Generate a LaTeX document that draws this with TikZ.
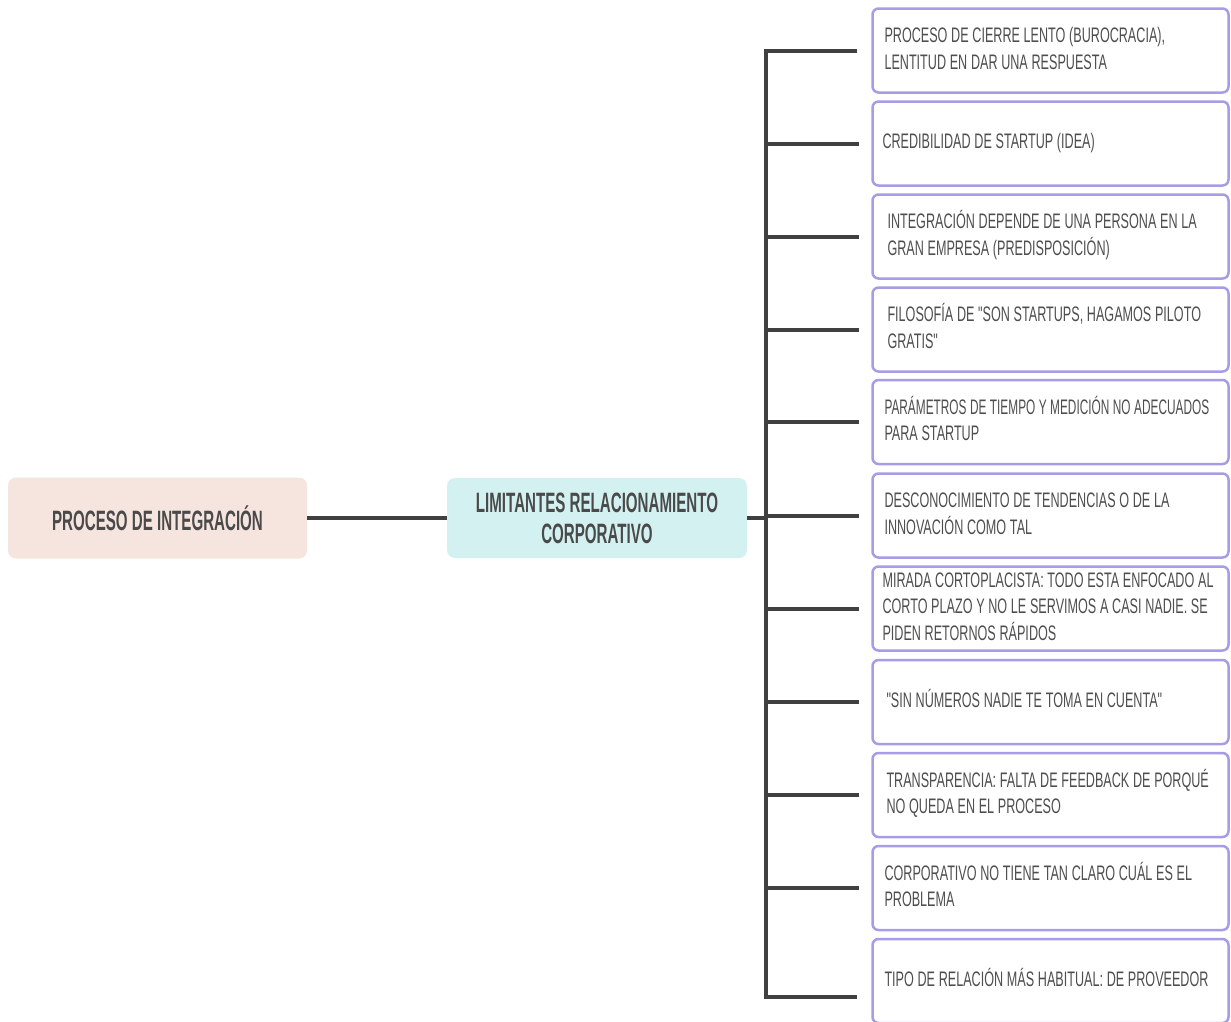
\documentclass[tikz,border=0pt]{standalone}
\usepackage{graphicx}
\usepackage{fontspec}
\setmainfont{Liberation Sans}
% condensed faces for the labels
\newfontfamily\bodyfont[FakeStretch=0.60]{Liberation Sans}
\newfontfamily\headfont[FakeStretch=0.54]{Liberation Sans}
\definecolor{pinkfill}{HTML}{F6E4DE}
\definecolor{cyanfill}{HTML}{D4F1F1}
\definecolor{lavender}{HTML}{A99CE6}
\definecolor{linegray}{HTML}{404040}
\definecolor{headtext}{HTML}{4A4A4A}
\definecolor{bodytext}{HTML}{4E4E4E}
% one item text, set line by line without wrapping, with narrow word spaces
\newcommand{\itemlines}[1]{\spaceskip=3.7pt\relax\begin{tabular}{@{}l@{}}#1\end{tabular}}
\tikzset{
  headbox/.style={draw=none, rounded corners=8pt, minimum width=299pt,
    minimum height=81pt, align=center, text=headtext, inner sep=0pt,
    font=\headfont\bfseries\fontsize{28}{31}\selectfont},
  itembox/.style={draw=lavender, line width=2.5pt, rounded corners=6pt,
    fill=white, minimum width=356pt, minimum height=84pt,
    text width=336pt, inner xsep=10pt, inner ysep=0pt, align=left,
    text=bodytext, font=\bodyfont\fontsize{21}{26.5}\selectfont},
  conn/.style={draw=linegray, line width=4pt},
}
\begin{document}
\begin{tikzpicture}[x=1pt,y=-1pt]
\useasboundingbox[fill=white] (0,0) rectangle (1231,1021);

% main chain
\node[headbox, fill=pinkfill] (root) at (157.5,518) {PROCESO DE INTEGRACIÓN};
\node[headbox, fill=cyanfill, minimum width=300pt, minimum height=80pt] (mid) at (597,518)
  {LIMITANTES RELACIONAMIENTO\\CORPORATIVO};

% list of limitations
\node[itembox] (b1)  at (1050.5,50.5)  {\itemlines{\hspace*{2pt}PROCESO DE CIERRE LENTO (BUROCRACIA),\\\hspace*{2pt}LENTITUD EN DAR UNA RESPUESTA}};
\node[itembox] (b2)  at (1050.5,143.5) {\itemlines{CREDIBILIDAD DE STARTUP (IDEA)}};
\node[itembox] (b3)  at (1050.5,236.5) {\itemlines{\hspace*{5pt}INTEGRACIÓN DEPENDE DE UNA PERSONA EN LA\\\hspace*{5pt}GRAN EMPRESA (PREDISPOSICIÓN)}};
\node[itembox] (b4)  at (1050.5,329.5) {\itemlines{\hspace*{5pt}FILOSOFÍA DE "SON STARTUPS, HAGAMOS PILOTO\\\hspace*{5pt}GRATIS"}};
\node[itembox] (b5)  at (1050.5,422)   {\itemlines{\hspace*{2pt}\scalebox{0.94}[1]{PARÁMETROS DE TIEMPO Y MEDICIÓN NO ADECUADOS}\\\hspace*{2pt}PARA STARTUP}};
\node[itembox] (b6)  at (1050.5,515.5) {\itemlines{\hspace*{2pt}DESCONOCIMIENTO DE TENDENCIAS O DE LA\\\hspace*{2pt}INNOVACIÓN COMO TAL}};
\node[itembox] (b7)  at (1050.5,608.5) {\itemlines{MIRADA CORTOPLACISTA: TODO ESTA ENFOCADO AL\\CORTO PLAZO Y NO LE SERVIMOS A CASI NADIE. SE\\PIDEN RETORNOS RÁPIDOS}};
\node[itembox] (b8)  at (1050.5,702)   {\itemlines{\hspace*{4pt}"SIN NÚMEROS NADIE TE TOMA EN CUENTA"}};
\node[itembox] (b9)  at (1050.5,795)   {\itemlines{\hspace*{4pt}TRANSPARENCIA: FALTA DE FEEDBACK DE PORQUÉ\\\hspace*{4pt}NO QUEDA EN EL PROCESO}};
\node[itembox] (b10) at (1050.5,888)   {\itemlines{\hspace*{2pt}CORPORATIVO NO TIENE TAN CLARO CUÁL ES EL\\\hspace*{2pt}PROBLEMA}};
\node[itembox] (b11) at (1050.5,981)   {\itemlines{\hspace*{2pt}TIPO DE RELACIÓN MÁS HABITUAL: DE PROVEEDOR}};

% connectors
\coordinate (trunk) at (766,0);
\coordinate (end1)  at ([xshift=-14pt]b1.west);
\coordinate (end11) at ([xshift=-14pt,yshift=-16pt]b11.west);

\draw[conn] (root.east) -- (mid.west);
\draw[conn] (mid.east) -- (mid.east -| trunk);
\draw[conn, line join=miter] (end1) -- (end1 -| trunk) -- (end11 -| trunk) -- (end11);
\foreach \b in {b2,b3,b4,b5,b6,b7,b8,b9,b10}
  \draw[conn] (\b.west -| trunk) -- ([xshift=-12pt]\b.west);
\end{tikzpicture}
\end{document}
